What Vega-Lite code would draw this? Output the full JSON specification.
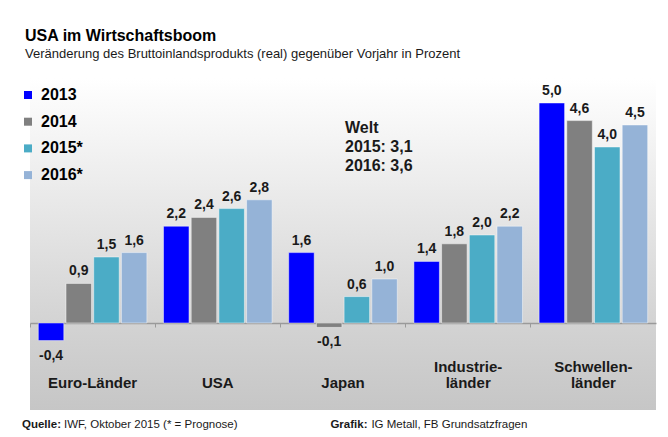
{
  "$schema": "https://vega.github.io/schema/vega-lite/v6.json",
  "width": 626,
  "height": 332,
  "autosize": {"type": "none"},
  "padding": {"left": 30, "top": 78, "right": 12, "bottom": 27},
  "background": "#ffffff",
  "title": {
    "text": "USA im Wirtschaftsboom",
    "subtitle": "Veränderung des Bruttoinlandsprodukts  (real) gegenüber Vorjahr in Prozent",
    "anchor": "start",
    "frame": "group",
    "dx": -5,
    "offset": 17,
    "font": "Liberation Sans",
    "fontSize": 16,
    "fontWeight": "bold",
    "color": "#000000",
    "subtitleFont": "Liberation Sans",
    "subtitleFontSize": 13,
    "subtitleColor": "#1a1a1a",
    "subtitlePadding": 4
  },
  "config": {
    "locale": {"number": {"decimal": ",", "thousands": ".", "grouping": [3], "currency": ["", " €"], "minus": "-"}},
    "view": {
      "stroke": null,
      "fill": {
        "gradient": "linear", "x1": 0, "y1": 0, "x2": 0, "y2": 1,
        "stops": [
          {"offset": 0, "color": "#ffffff"},
          {"offset": 0.72, "color": "#d4d4d4"},
          {"offset": 1, "color": "#c6c6c6"}
        ]
      }
    },
    "font": "Liberation Sans"
  },
  "datasets": {
    "gdp": [
      {"region": "Euro-Länder", "year": "2013", "value": -0.4},
      {"region": "Euro-Länder", "year": "2014", "value": 0.9},
      {"region": "Euro-Länder", "year": "2015*", "value": 1.5},
      {"region": "Euro-Länder", "year": "2016*", "value": 1.6},
      {"region": "USA", "year": "2013", "value": 2.2},
      {"region": "USA", "year": "2014", "value": 2.4},
      {"region": "USA", "year": "2015*", "value": 2.6},
      {"region": "USA", "year": "2016*", "value": 2.8},
      {"region": "Japan", "year": "2013", "value": 1.6},
      {"region": "Japan", "year": "2014", "value": -0.1},
      {"region": "Japan", "year": "2015*", "value": 0.6},
      {"region": "Japan", "year": "2016*", "value": 1.0},
      {"region": "Industrieländer", "year": "2013", "value": 1.4},
      {"region": "Industrieländer", "year": "2014", "value": 1.8},
      {"region": "Industrieländer", "year": "2015*", "value": 2.0},
      {"region": "Industrieländer", "year": "2016*", "value": 2.2},
      {"region": "Schwellenländer", "year": "2013", "value": 5.0},
      {"region": "Schwellenländer", "year": "2014", "value": 4.6},
      {"region": "Schwellenländer", "year": "2015*", "value": 4.0},
      {"region": "Schwellenländer", "year": "2016*", "value": 4.5}
    ]
  },
  "layer": [
    {
      "data": {"name": "gdp"},
      "mark": {"type": "bar", "stroke": "#ffffff", "strokeOpacity": 0.45, "strokeWidth": 1},
      "encoding": {
        "x": {
          "field": "region", "type": "nominal", "sort": null,
          "scale": {"paddingInner": 0, "paddingOuter": 0},
          "axis": {
            "title": null,
            "orient": "bottom",
            "offset": -87,
            "domainColor": "#9a9a9a",
            "domainWidth": 1.5,
            "tickColor": "#9a9a9a",
            "tickSize": 4,
            "bandPosition": 0,
            "labelAngle": 0,
            "labelFont": "Liberation Sans",
            "labelFontSize": 15,
            "labelFontWeight": "bold",
            "labelColor": "#1a1a1a",
            "labelBaseline": "bottom",
            "labelPadding": 47,
            "labelLineHeight": 16,
            "labelExpr": "datum.value == 'Industrieländer' ? ['Industrie-', 'länder'] : datum.value == 'Schwellenländer' ? ['Schwellen-', 'länder'] : ['', datum.label]"
          }
        },
        "xOffset": {
          "field": "year", "type": "nominal",
          "scale": {"paddingInner": 0.08, "paddingOuter": 0.3}
        },
        "y": {
          "field": "value", "type": "quantitative",
          "scale": {"domain": [-1.977, 5.568], "nice": false, "zero": false},
          "axis": null
        },
        "color": {
          "field": "year", "type": "nominal",
          "scale": {"domain": ["2013", "2014", "2015*", "2016*"], "range": ["#0000ff", "#808080", "#4bacc6", "#95b3d7"]},
          "legend": {
            "title": null,
            "orient": "none",
            "legendX": -10,
            "legendY": 9,
            "padding": 0,
            "symbolType": "square",
            "symbolSize": 64,
            "symbolStrokeWidth": 0,
            "symbolOpacity": 1,
            "labelFont": "Liberation Sans",
            "labelFontSize": 16,
            "labelFontWeight": "bold",
            "labelColor": "#000000",
            "labelOffset": 5,
            "rowPadding": 10.7
          }
        }
      }
    },
    {
      "data": {"name": "gdp"},
      "transform": [{"filter": "datum.value >= 0"}],
      "mark": {"type": "text", "baseline": "bottom", "dy": -5, "fontSize": 14, "fontWeight": "bold", "color": "#1a1a1a"},
      "encoding": {
        "x": {"field": "region", "type": "nominal", "sort": null},
        "xOffset": {"field": "year", "type": "nominal"},
        "y": {"field": "value", "type": "quantitative"},
        "text": {"field": "value", "type": "quantitative", "format": ".1f"}
      }
    },
    {
      "data": {"name": "gdp"},
      "transform": [{"filter": "datum.value < 0"}],
      "mark": {"type": "text", "baseline": "top", "dy": 8, "fontSize": 14, "fontWeight": "bold", "color": "#1a1a1a"},
      "encoding": {
        "x": {"field": "region", "type": "nominal", "sort": null},
        "xOffset": {"field": "year", "type": "nominal"},
        "y": {"field": "value", "type": "quantitative"},
        "text": {"field": "value", "type": "quantitative", "format": ".1f"}
      }
    },
    {
      "data": {"values": [{"text": "Welt\n2015: 3,1\n2016: 3,6"}]},
      "mark": {"type": "text", "align": "left", "baseline": "top", "dx": 2, "lineBreak": "\n", "lineHeight": 19, "fontSize": 16, "fontWeight": "bold", "color": "#1a1a1a"},
      "encoding": {
        "x": {"datum": "Japan"},
        "y": {"datum": 4.61},
        "text": {"field": "text"}
      }
    },
    {
      "data": {"values": [{"text": "Quelle:"}]},
      "mark": {"type": "text", "align": "left", "baseline": "middle", "dx": -8, "fontSize": 11.5, "fontWeight": "bold", "color": "#1a1a1a"},
      "encoding": {
        "x": {"datum": "Euro-Länder", "bandPosition": 0},
        "y": {"datum": -2.32},
        "text": {"field": "text"}
      }
    },
    {
      "data": {"values": [{"text": "IWF, Oktober 2015 (* = Prognose)"}]},
      "mark": {"type": "text", "align": "left", "baseline": "middle", "dx": 34, "fontSize": 11.5, "color": "#1a1a1a"},
      "encoding": {
        "x": {"datum": "Euro-Länder", "bandPosition": 0},
        "y": {"datum": -2.32},
        "text": {"field": "text"}
      }
    },
    {
      "data": {"values": [{"text": "Grafik:"}]},
      "mark": {"type": "text", "align": "left", "baseline": "middle", "dx": 50, "fontSize": 11.5, "fontWeight": "bold", "color": "#1a1a1a"},
      "encoding": {
        "x": {"datum": "Japan", "bandPosition": 0},
        "y": {"datum": -2.32},
        "text": {"field": "text"}
      }
    },
    {
      "data": {"values": [{"text": "IG Metall, FB Grundsatzfragen"}]},
      "mark": {"type": "text", "align": "left", "baseline": "middle", "dx": 91, "fontSize": 11.5, "color": "#1a1a1a"},
      "encoding": {
        "x": {"datum": "Japan", "bandPosition": 0},
        "y": {"datum": -2.32},
        "text": {"field": "text"}
      }
    }
  ]
}
